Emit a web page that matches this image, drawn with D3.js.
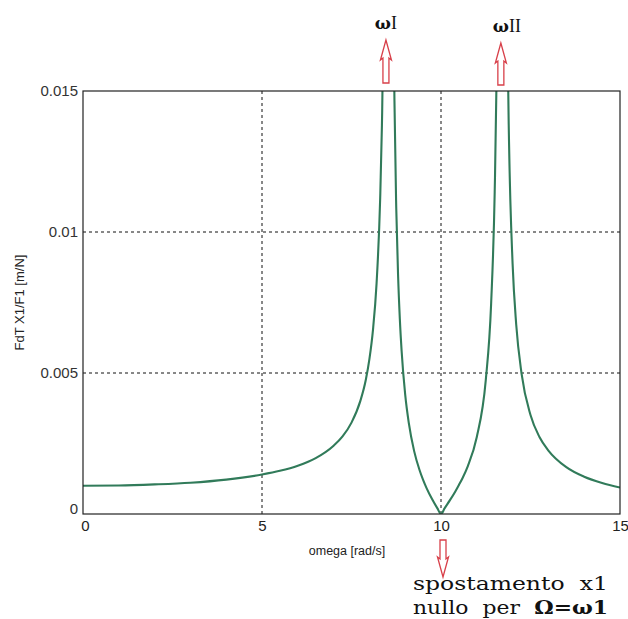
<!DOCTYPE html>
<html>
<head>
<meta charset="utf-8">
<script src="https://cdn.jsdelivr.net/npm/d3@7"></script>
<style>
  html, body { margin: 0; padding: 0; background: #fff; }
  svg { display: block; }
</style>
</head>
<body>
<svg id="chart" width="628" height="619"></svg>
<script>
// ---- data ----
const omega = [0, 1, 2, 3, 4, 5, 5.5, 6, 6.5, 7, 7.25, 7.5, 7.75, 7.9, 8, 8.1, 8.2, 8.3, 8.35, 8.4, 8.45, 8.5, 8.54,
  8.6, 8.65, 8.7, 8.75, 8.8, 8.85, 8.9, 9, 9.1, 9.25, 9.4, 9.5, 9.6, 9.75, 9.9, 10, 10.1, 10.25, 10.4, 10.5, 10.6,
  10.75, 11, 11.25, 11.4, 11.5, 11.55, 11.6, 11.65, 11.7, 11.75, 11.8, 11.85, 11.9, 12, 12.1, 12.25, 12.5, 12.75,
  13, 13.5, 14, 14.5, 15];
const fdt = [0.00100, 0.00101, 0.00105, 0.00111, 0.00122, 0.00140, 0.00153, 0.00171, 0.00198, 0.00242, 0.00275,
  0.00324, 0.00402, 0.00476, 0.00549, 0.00653, 0.00817, 0.01115, 0.01379, 0.01827, 0.02755, 0.05835, 0.5,
  0.04233, 0.02202, 0.01465, 0.01084, 0.00850, 0.00692, 0.00578, 0.00423, 0.00323, 0.00223, 0.00156, 0.00121,
  0.00091, 0.00053, 0.00020, 0.0, 0.00020, 0.00049, 0.00080, 0.00103, 0.00127,
  0.00170, 0.00273, 0.00474, 0.00745, 0.01142, 0.01530, 0.02286, 0.04405, 0.5, 0.05588, 0.02663, 0.01759,
  0.01320, 0.00887, 0.00673, 0.00498, 0.00351, 0.00273, 0.00225, 0.00166, 0.00132, 0.00110, 0.00094];
const xTicks = [0, 5, 10, 15];
const yTicks = [0, 0.005, 0.01, 0.015];
const yTickLabels = ["0", "0.005", "0.01", "0.015"];
const xLabel = "omega [rad/s]";
const yLabel = "FdT X1/F1 [m/N]";
const peakLabels = [{ omega: 8.49, main: "ω", sub: "I" }, { omega: 11.70, main: "ω", sub: "II" }];
const zeroNote = { omega: 10, line1: "spostamento x1", line2a: "nullo per ", line2b: "Ω=ω1" };

// ---- layout ----
const svg = d3.select("#chart");
const L = 83, R = 620, T = 91, B = 514;
const x = d3.scaleLinear().domain([0, 15]).range([L, R]);
const y = d3.scaleLinear().domain([0, 0.015]).range([B, T]);
const sans = "'Liberation Sans', Arial, sans-serif";

svg.append("defs").append("clipPath").attr("id", "plotclip")
  .append("rect").attr("x", L).attr("y", T).attr("width", R - L).attr("height", B - T);

// grid
const grid = svg.append("g").attr("stroke", "#111").attr("stroke-width", 1).attr("stroke-dasharray", "3,3");
xTicks.filter(t => t > 0 && t < 15).forEach(t => {
  grid.append("line").attr("x1", x(t)).attr("x2", x(t)).attr("y1", T).attr("y2", B);
});
yTicks.filter(t => t > 0 && t < 0.015).forEach(t => {
  grid.append("line").attr("x1", L).attr("x2", R).attr("y1", y(t)).attr("y2", y(t));
});

// curve
const pts = omega.map((w, i) => [w, fdt[i]]);
svg.append("path")
  .datum(pts)
  .attr("clip-path", "url(#plotclip)")
  .attr("fill", "none")
  .attr("stroke", "#317b5a")
  .attr("stroke-width", 2.1)
  .attr("stroke-linejoin", "round")
  .attr("d", d3.line().x(d => x(d[0])).y(d => y(d[1])).curve(d3.curveMonotoneX));

// frame
svg.append("rect").attr("x", L).attr("y", T).attr("width", R - L).attr("height", B - T)
  .attr("fill", "none").attr("stroke", "#222").attr("stroke-width", 1.2);

// axes
const xAxis = svg.append("g").attr("transform", `translate(0,${B})`)
  .call(d3.axisBottom(x).tickValues(xTicks).tickSize(0).tickPadding(6).tickFormat(d3.format("d")));
xAxis.select(".domain").remove();
xAxis.selectAll("text").attr("font-family", sans).attr("font-size", 15).attr("fill", "#222");
xAxis.selectAll(".tick text").attr("dx", d => d === 0 ? 2 : 0);

const yAxis = svg.append("g").attr("transform", `translate(${L},0)`)
  .call(d3.axisLeft(y).tickValues(yTicks).tickSize(0).tickPadding(5)
    .tickFormat((d, i) => yTickLabels[i]));
yAxis.select(".domain").remove();
yAxis.selectAll("text").attr("font-family", sans).attr("font-size", 15).attr("fill", "#333");
yAxis.selectAll(".tick text").attr("dy", d => d === 0 ? "-0.05em" : "0.32em");

// axis labels
svg.append("text").attr("x", 347).attr("y", 555).attr("text-anchor", "middle")
  .attr("font-family", sans).attr("font-size", 12.5).attr("fill", "#222").text(xLabel);
svg.append("text").attr("transform", `translate(24,${(T + B) / 2}) rotate(-90)`)
  .attr("text-anchor", "middle").attr("font-family", sans).attr("font-size", 13).attr("fill", "#222")
  .text(yLabel);

// hollow arrow helper
function hollowArrow(cx, tipY, baseY, dir) {
  // dir = -1 points up, +1 points down
  const hw = 5.5, sw = 3, headLen = 20;
  const s = dir < 0 ? 1 : -1;
  const headBase = tipY + s * headLen;
  const p = [
    [cx, tipY], [cx + hw, headBase], [cx + sw, headBase - s * 2], [cx + sw, baseY],
    [cx - sw, baseY], [cx - sw, headBase - s * 2], [cx - hw, headBase]
  ];
  svg.append("path").attr("d", "M" + p.map(q => q.join(",")).join("L") + "Z")
    .attr("fill", "#fff").attr("stroke", "#d8404a").attr("stroke-width", 1.3);
}

// peak annotations
const arrowTips = [40, 43], arrowBases = [83, 85], labelY = [29, 32];
peakLabels.forEach((p, i) => {
  const cx = x(p.omega) - 1;
  hollowArrow(cx, arrowTips[i], arrowBases[i], -1);
  const t = svg.append("text").attr("x", cx + (i === 0 ? 0 : 6)).attr("y", labelY[i]).attr("text-anchor", "middle")
    .attr("font-family", "'DejaVu Serif', 'Liberation Serif', serif").attr("font-size", 17).attr("fill", "#111");
  t.append("tspan").attr("font-weight", "bold").text(p.main);
  t.append("tspan").attr("font-family", "'Liberation Serif', serif").attr("font-size", 18).text(p.sub);
});

// zero annotation
const zx = x(zeroNote.omega) + 2;
hollowArrow(zx, 577, 540, 1);
const serif = "'DejaVu Serif', 'Liberation Serif', serif";
svg.append("text").attr("x", 413).attr("y", 590)
  .attr("font-family", serif).attr("font-size", 18).attr("fill", "#111")
  .attr("textLength", 195).attr("lengthAdjust", "spacingAndGlyphs")
  .attr("word-spacing", 6)
  .text(zeroNote.line1);
const t2 = svg.append("text").attr("x", 413).attr("y", 614)
  .attr("font-family", serif).attr("font-size", 18).attr("fill", "#111")
  .attr("textLength", 195).attr("lengthAdjust", "spacingAndGlyphs")
  .attr("word-spacing", 6);
t2.append("tspan").text(zeroNote.line2a);
t2.append("tspan").attr("font-weight", "bold").text(zeroNote.line2b);
</script>
</body>
</html>
